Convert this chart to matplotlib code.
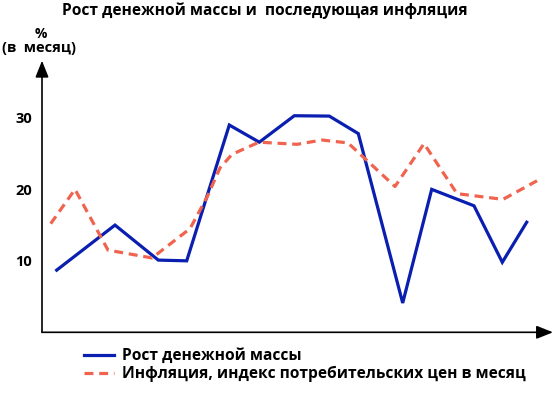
import matplotlib
matplotlib.use("Agg")
import matplotlib.pyplot as plt

plt.rcParams['font.family'] = ['Open Sans', 'DejaVu Sans']

# money supply growth, % per month (x = position along the time axis)
money_x = [56.7, 115, 158.3, 186.7, 229.3, 259.3, 294.3, 329.3, 358.3, 402.7, 431.7, 474, 502.3, 526.7]
money_y = [8.7, 15.0, 10.1, 10.0, 29.0, 26.6, 30.3, 30.25, 27.8, 4.1, 20.0, 17.7, 9.8, 15.4]

# consumer price inflation, % per month
infl_x = [50.7, 75, 108, 152, 190, 207, 220, 232, 259, 297, 322, 348, 395, 424, 457, 503, 537]
infl_y = [15.2, 20.0, 11.5, 10.4, 14.5, 18.9, 23.0, 24.9, 26.6, 26.3, 26.9, 26.5, 20.4, 26.4, 19.4, 18.6, 21.2]

y_ticks = [10, 20, 30]

title = 'Рост денежной массы и  последующая инфляция'
label_money = 'Рост денежной массы'
label_infl = 'Инфляция, индекс потребительских цен в месяц'

W, H = 554, 395
fig = plt.figure(figsize=(W / 100, H / 100), dpi=100)
ax = fig.add_axes([42 / W, (H - 332.3) / H, (553 - 42) / W, (332.3 - 60.7) / H])

l1, = ax.plot(money_x, money_y, color='#0a1eb0', lw=2.3, solid_joinstyle='miter')
l2, = ax.plot(infl_x, infl_y, color='#f0644f', lw=2.3, dashes=(2.8, 1.8))

ax.set_xlim(42, 553)
ax.set_ylim(0, 38.0)
for s in ax.spines.values():
    s.set_visible(False)
ax.set_xticks([])
ax.set_yticks(y_ticks)
ax.set_yticklabels([str(t) for t in y_ticks], fontweight='bold', fontsize=10.5)
ax.tick_params(axis='y', length=0, pad=7)

# axes with arrow heads
arrow = dict(arrowstyle='-|>,head_length=1.0,head_width=0.4', color='black', lw=1.2, shrinkA=0, shrinkB=0)
ax.annotate('', xy=(0, 1), xytext=(0, 0), xycoords='axes fraction', arrowprops=arrow)
ax.annotate('', xy=(1, 0), xytext=(0, 0), xycoords='axes fraction', arrowprops=arrow)

fig.text(265 / W, 1 - 11 / H, title, ha='center', va='center', fontsize=11.2, fontweight='bold')
fig.text(41 / W, 1 - 34 / H, '%', ha='center', va='center', fontsize=10, fontweight='bold')
fig.text(39 / W, 1 - 48 / H, '(в  месяц)', ha='center', va='center', fontsize=10.5, fontweight='bold')

leg = fig.legend([l1, l2], [label_money, label_infl], loc='upper left',
                 bbox_to_anchor=(84 / W, 1 - 348 / H), frameon=False,
                 prop={'weight': 'bold', 'size': 11.2}, handlelength=1.9,
                 handletextpad=0.55, labelspacing=0.12, borderpad=0, borderaxespad=0)

fig.savefig('out.png', dpi=100)
